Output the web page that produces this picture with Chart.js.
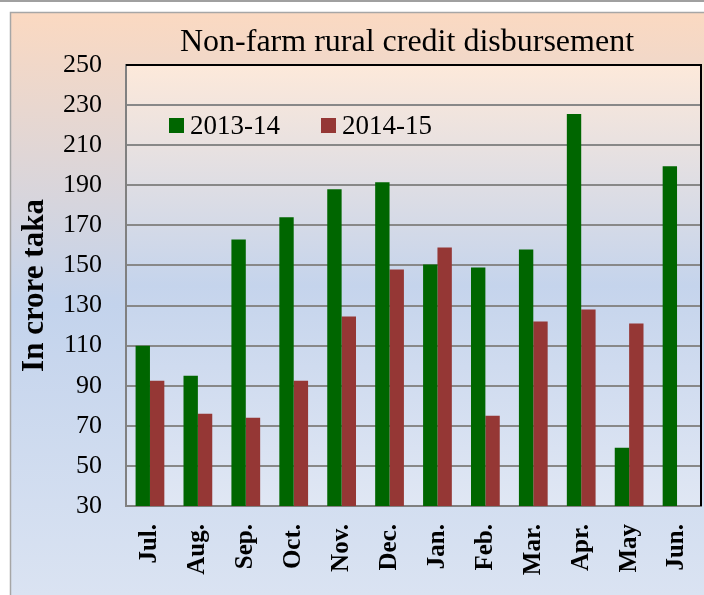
<!DOCTYPE html>
<html>
<head>
<meta charset="utf-8">
<script src="https://cdn.jsdelivr.net/npm/chart.js@4"></script>
<style>
  html, body { margin: 0; padding: 0; background: #fff; }
  canvas { display: block; }
</style>
</head>
<body>
<canvas id="chart" width="704" height="595"></canvas>
<script>
const months = ['Jul.', 'Aug.', 'Sep.', 'Oct.', 'Nov.', 'Dec.', 'Jan.', 'Feb.', 'Mar.', 'Apr.', 'May', 'Jun.'];
const fy2013 = [110, 95, 163, 174, 188, 191.5, 150.5, 149, 158, 225.5, 59, 199.5];
const fy2014 = [92.5, 76, 74, 92.5, 124.5, 148, 159, 75, 122, 128, 121, null];
const seriesNames = ['2013-14', '2014-15'];
const yTicks = [30, 50, 70, 90, 110, 130, 150, 170, 190, 210, 230, 250];

const SERIF = '"Liberation Serif", "Times New Roman", serif';

// background: page line, framed box with gradient, lighter plot area
const backdrop = {
  id: 'backdrop',
  beforeDraw(chart) {
    const { ctx, width, height, chartArea: a } = chart;
    ctx.save();
    ctx.fillStyle = '#fff';
    ctx.fillRect(0, 0, width, height);
    ctx.fillStyle = '#a0a0a0';
    ctx.fillRect(0, 0, width, 2);

    const g = ctx.createLinearGradient(0, 12, 0, height);
    g.addColorStop(0, '#fbd9c1');
    g.addColorStop(0.5, '#c3d3ec');
    g.addColorStop(1, '#dae3f2');
    ctx.fillStyle = g;
    ctx.fillRect(10, 12, width - 10, height - 12);
    ctx.strokeStyle = '#a6a6a6';
    ctx.lineWidth = 1.5;
    ctx.strokeRect(10.5, 12.5, width, height);

    const p = ctx.createLinearGradient(0, a.top, 0, a.bottom);
    p.addColorStop(0, '#fde9da');
    p.addColorStop(0.5, '#c5d4ec');
    p.addColorStop(1, '#e0e7f4');
    ctx.fillStyle = p;
    ctx.fillRect(a.left, a.top, a.right - a.left, a.bottom - a.top);
    ctx.restore();
  },
  afterDraw(chart) {
    const { ctx, chartArea: a } = chart;
    ctx.save();
    ctx.strokeStyle = '#000';
    ctx.lineWidth = 2;
    ctx.beginPath();
    ctx.moveTo(a.left, a.top);
    ctx.lineTo(a.right, a.top);
    ctx.lineTo(a.right, a.bottom);
    ctx.stroke();

    // title
    ctx.fillStyle = '#000';
    ctx.font = '32px ' + SERIF;
    ctx.textAlign = 'center';
    ctx.textBaseline = 'alphabetic';
    ctx.fillText('Non-farm rural credit disbursement', 407, 51);

    // legend inside the plot
    ctx.font = '27px ' + SERIF;
    ctx.textAlign = 'left';
    ctx.textBaseline = 'middle';
    const lx = [169, 321];
    chart.data.datasets.forEach((ds, i) => {
      ctx.fillStyle = ds.backgroundColor;
      ctx.fillRect(lx[i], 118, 15, 15);
      ctx.fillStyle = '#000';
      ctx.fillText(ds.label, lx[i] + 21, 127);
    });
    ctx.restore();
  }
};

new Chart(document.getElementById('chart'), {
  type: 'bar',
  data: {
    labels: months,
    datasets: [
      { label: seriesNames[0], data: fy2013, backgroundColor: '#006600' },
      { label: seriesNames[1], data: fy2014, backgroundColor: '#953735' }
    ]
  },
  options: {
    responsive: false,
    animation: false,
    categoryPercentage: 0.6,
    barPercentage: 1.0,
    layout: { padding: { top: 65, right: 3, left: 0, bottom: 0 } },
    plugins: {
      legend: { display: false },
      title: { display: false },
      tooltip: { enabled: false }
    },
    scales: {
      x: {
        grid: { display: false, drawTicks: false },
        border: { color: '#808080', width: 2 },
        ticks: {
          color: '#000',
          minRotation: 90,
          maxRotation: 90,
          padding: 18,
          font: { family: SERIF, size: 25, weight: 'bold' }
        },
        afterFit(scale) {
          scale.height = 89;
          scale.paddingLeft = 0;
          scale.paddingRight = 0;
        }
      },
      y: {
        min: 30,
        max: 250,
        afterBuildTicks(scale) {
          scale.ticks = yTicks.map(v => ({ value: v }));
        },
        grid: { color: '#888888', lineWidth: 2, drawTicks: false },
        border: { color: '#808080', width: 2 },
        ticks: {
          color: '#000',
          padding: 24,
          font: { family: SERIF, size: 26 }
        },
        title: {
          display: true,
          text: 'In crore taka',
          color: '#000',
          padding: { top: 16, bottom: 0 },
          font: { family: SERIF, size: 31, weight: 'bold' }
        },
        afterFit(scale) {
          scale.width = 126;
          scale.paddingTop = 0;
          scale.paddingBottom = 0;
        }
      }
    }
  },
  plugins: [backdrop]
});
</script>
</body>
</html>
